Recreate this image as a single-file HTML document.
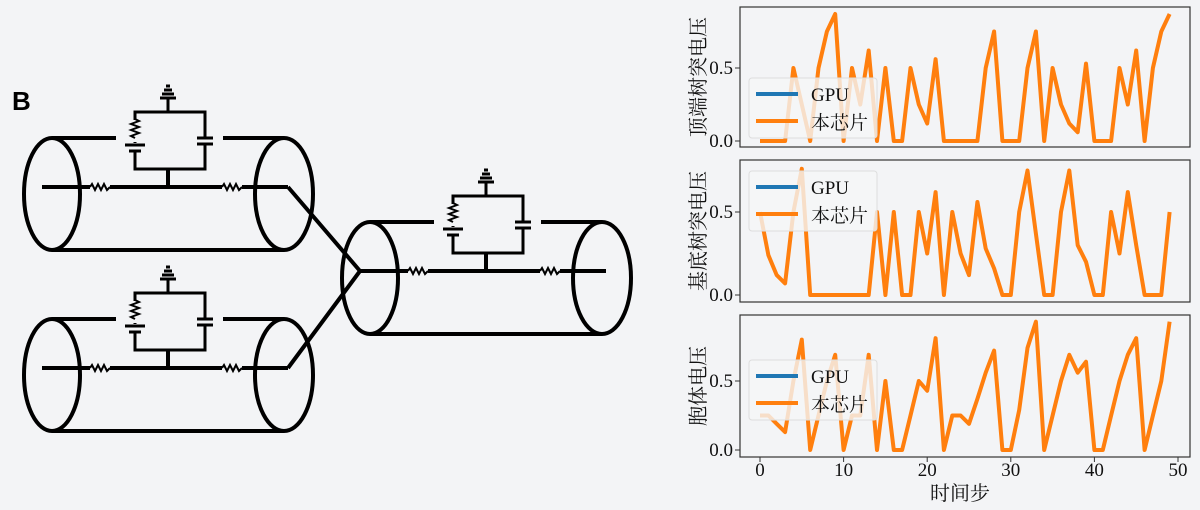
<!DOCTYPE html>
<html><head><meta charset="utf-8"><style>
html,body{margin:0;padding:0;background:#f3f4f6;}
svg{display:block;}
text{font-family:"Liberation Serif","Noto Serif CJK SC","Noto Sans CJK SC",serif;}
</style></head><body>
<svg id="s" width="1200" height="510" viewBox="0 0 1200 510" xmlns="http://www.w3.org/2000/svg">
<rect width="1200" height="510" fill="#f3f4f6"/>
<text x="12" y="110" font-weight="bold" font-size="26" style="font-family:'Liberation Sans',sans-serif">B</text>
<defs>
<g id="unit" fill="none" stroke="#000" stroke-width="4">
  <path d="M135 112 H205 V169 H135 Z" stroke-width="3"/>
  <path d="M168 169 V187" />
  <path d="M168 112 V98" stroke-width="3"/>
  <path d="M160 98 H176 M162 94 H174 M164 90 H172 M166 86 H170" stroke-width="3"/>
  <rect x="131" y="120" width="8" height="22" fill="#f3f4f6" stroke="none"/>
  <path d="M135 119 l4 2 l-8 3 l8 3 l-8 3 l8 3 l-8 3 l4 2" stroke-width="2"/>
  <rect x="126" y="143" width="18" height="9" fill="#f3f4f6" stroke="none"/>
  <path d="M125 145 H145" stroke-width="3"/>
  <path d="M129 151 H141" stroke-width="3"/>
  <rect x="198" y="137" width="14" height="8" fill="#f3f4f6" stroke="none"/>
  <path d="M197 138 H213 M197 144 H213" stroke-width="3"/>
</g>
<g id="cyl" fill="none" stroke="#000" stroke-width="4">
  <ellipse cx="52" cy="194" rx="28" ry="56"/>
  <ellipse cx="284" cy="194" rx="29" ry="56"/>
  <path d="M52 138 H116 M223 138 H284 M52 250 H284"/>
  <path d="M42 187 H90 M110 187 H222 M242 187 H288"/>
  <path d="M90 187 l2 -3 l3 6 l3 -6 l3 6 l3 -6 l3 6 l3 -3" stroke-width="2"/>
  <path d="M222 187 l2 -3 l3 6 l3 -6 l3 6 l3 -6 l3 6 l3 -3" stroke-width="2"/>
  <use href="#unit"/>
</g>
</defs>
<use href="#cyl"/>
<use href="#cyl" transform="translate(0,181)"/>
<use href="#cyl" transform="translate(318,84)"/>
<path d="M288 187 L360 271 M288 368 L360 271" stroke="#000" stroke-width="4" fill="none"/>
<g id="plots"></g>
</svg>
<script>
const NS="http://www.w3.org/2000/svg";
const g=document.getElementById('plots');
function el(t,a,txt){const e=document.createElementNS(NS,t);for(const k in a)e.setAttribute(k,a[k]);if(txt!==undefined)e.textContent=txt;g.appendChild(e);return e;}
const d1=[0,0,0,0,0.5,0.25,0,0.5,0.75,0.87,0,0.5,0.25,0.62,0,0.5,0,0,0.5,0.25,0.12,0.56,0,0,0,0,0,0.5,0.75,0,0,0,0.5,0.75,0,0.5,0.25,0.12,0.06,0.53,0,0,0,0.5,0.25,0.62,0,0.5,0.75,0.87];
const d2=[0.5,0.24,0.12,0.07,0.5,0.76,0,0,0,0,0,0,0,0,0.5,0,0.5,0,0,0.5,0.25,0.62,0,0.5,0.25,0.12,0.56,0.28,0.16,0,0,0.5,0.75,0.37,0,0,0.5,0.75,0.3,0.2,0,0,0.5,0.25,0.62,0.3,0,0,0,0.5];
const d3=[0.25,0.25,0.19,0.13,0.5,0.8,0,0.25,0.5,0.69,0,0.25,0.25,0.69,0,0.5,0,0,0.25,0.5,0.43,0.81,0,0.25,0.25,0.19,0.37,0.56,0.72,0,0,0.29,0.74,0.93,0,0.25,0.5,0.69,0.56,0.64,0,0,0.25,0.5,0.69,0.81,0,0.25,0.5,0.93];
const P=[{top:7,bot:147,y0:141,y5:68,d:d1,lab:"顶端树突电压"},
{top:160,bot:302,y0:295,y5:212,d:d2,lab:"基底树突电压"},
{top:315,bot:457,y0:450,y5:381,d:d3,lab:"胞体电压"}];
const X=t=>760+t*8.36;
P.forEach((p,i)=>{
 el('rect',{x:740,y:p.top,width:450,height:p.bot-p.top,fill:'none',stroke:'#333','stroke-width':1.2});
 const k=(p.y0-p.y5)/0.5;
 const pts=p.d.map((v,t)=>X(t).toFixed(1)+','+(p.y0-k*v).toFixed(1)).join(' ');
 el('polyline',{points:pts,fill:'none',stroke:'#ff7f0e','stroke-width':4,'stroke-linejoin':'round'});
 [[0,p.y0],[0.5,p.y5]].forEach(([v,y])=>{
  el('line',{x1:735,y1:y,x2:740,y2:y,stroke:'#333','stroke-width':1});
  el('text',{x:733,y:y+6,'text-anchor':'end','font-size':19,fill:'#111'},v.toFixed(1));
 });
 const cy=(p.top+p.bot)/2;
 el('text',{x:0,y:0,'font-size':20,'text-anchor':'middle',fill:'#111',transform:`translate(705,${cy}) rotate(-90)`},p.lab);
 const lt = i==0?78:(i==1?171:(p.top+45));
 el('rect',{x:749,y:lt,width:128,height:60,rx:3,fill:'#f5f6f8','fill-opacity':0.8,stroke:'#ddd','stroke-width':1});
 el('line',{x1:756,y1:lt+16,x2:798,y2:lt+16,stroke:'#1f77b4','stroke-width':4});
 el('line',{x1:756,y1:lt+43,x2:798,y2:lt+43,stroke:'#ff7f0e','stroke-width':4});
 el('text',{x:811,y:lt+23,'font-size':19,fill:'#111'},'GPU');
 el('text',{x:811,y:lt+51,'font-size':19,fill:'#111'},'本芯片');
});
[0,10,20,30,40,50].forEach(t=>{
 el('line',{x1:X(t),y1:457,x2:X(t),y2:462,stroke:'#333','stroke-width':1});
 el('text',{x:X(t),y:476,'text-anchor':'middle','font-size':19,fill:'#111'},String(t));
});
el('text',{x:960,y:500,'text-anchor':'middle','font-size':20,fill:'#111'},'时间步');
</script>
</body></html>
